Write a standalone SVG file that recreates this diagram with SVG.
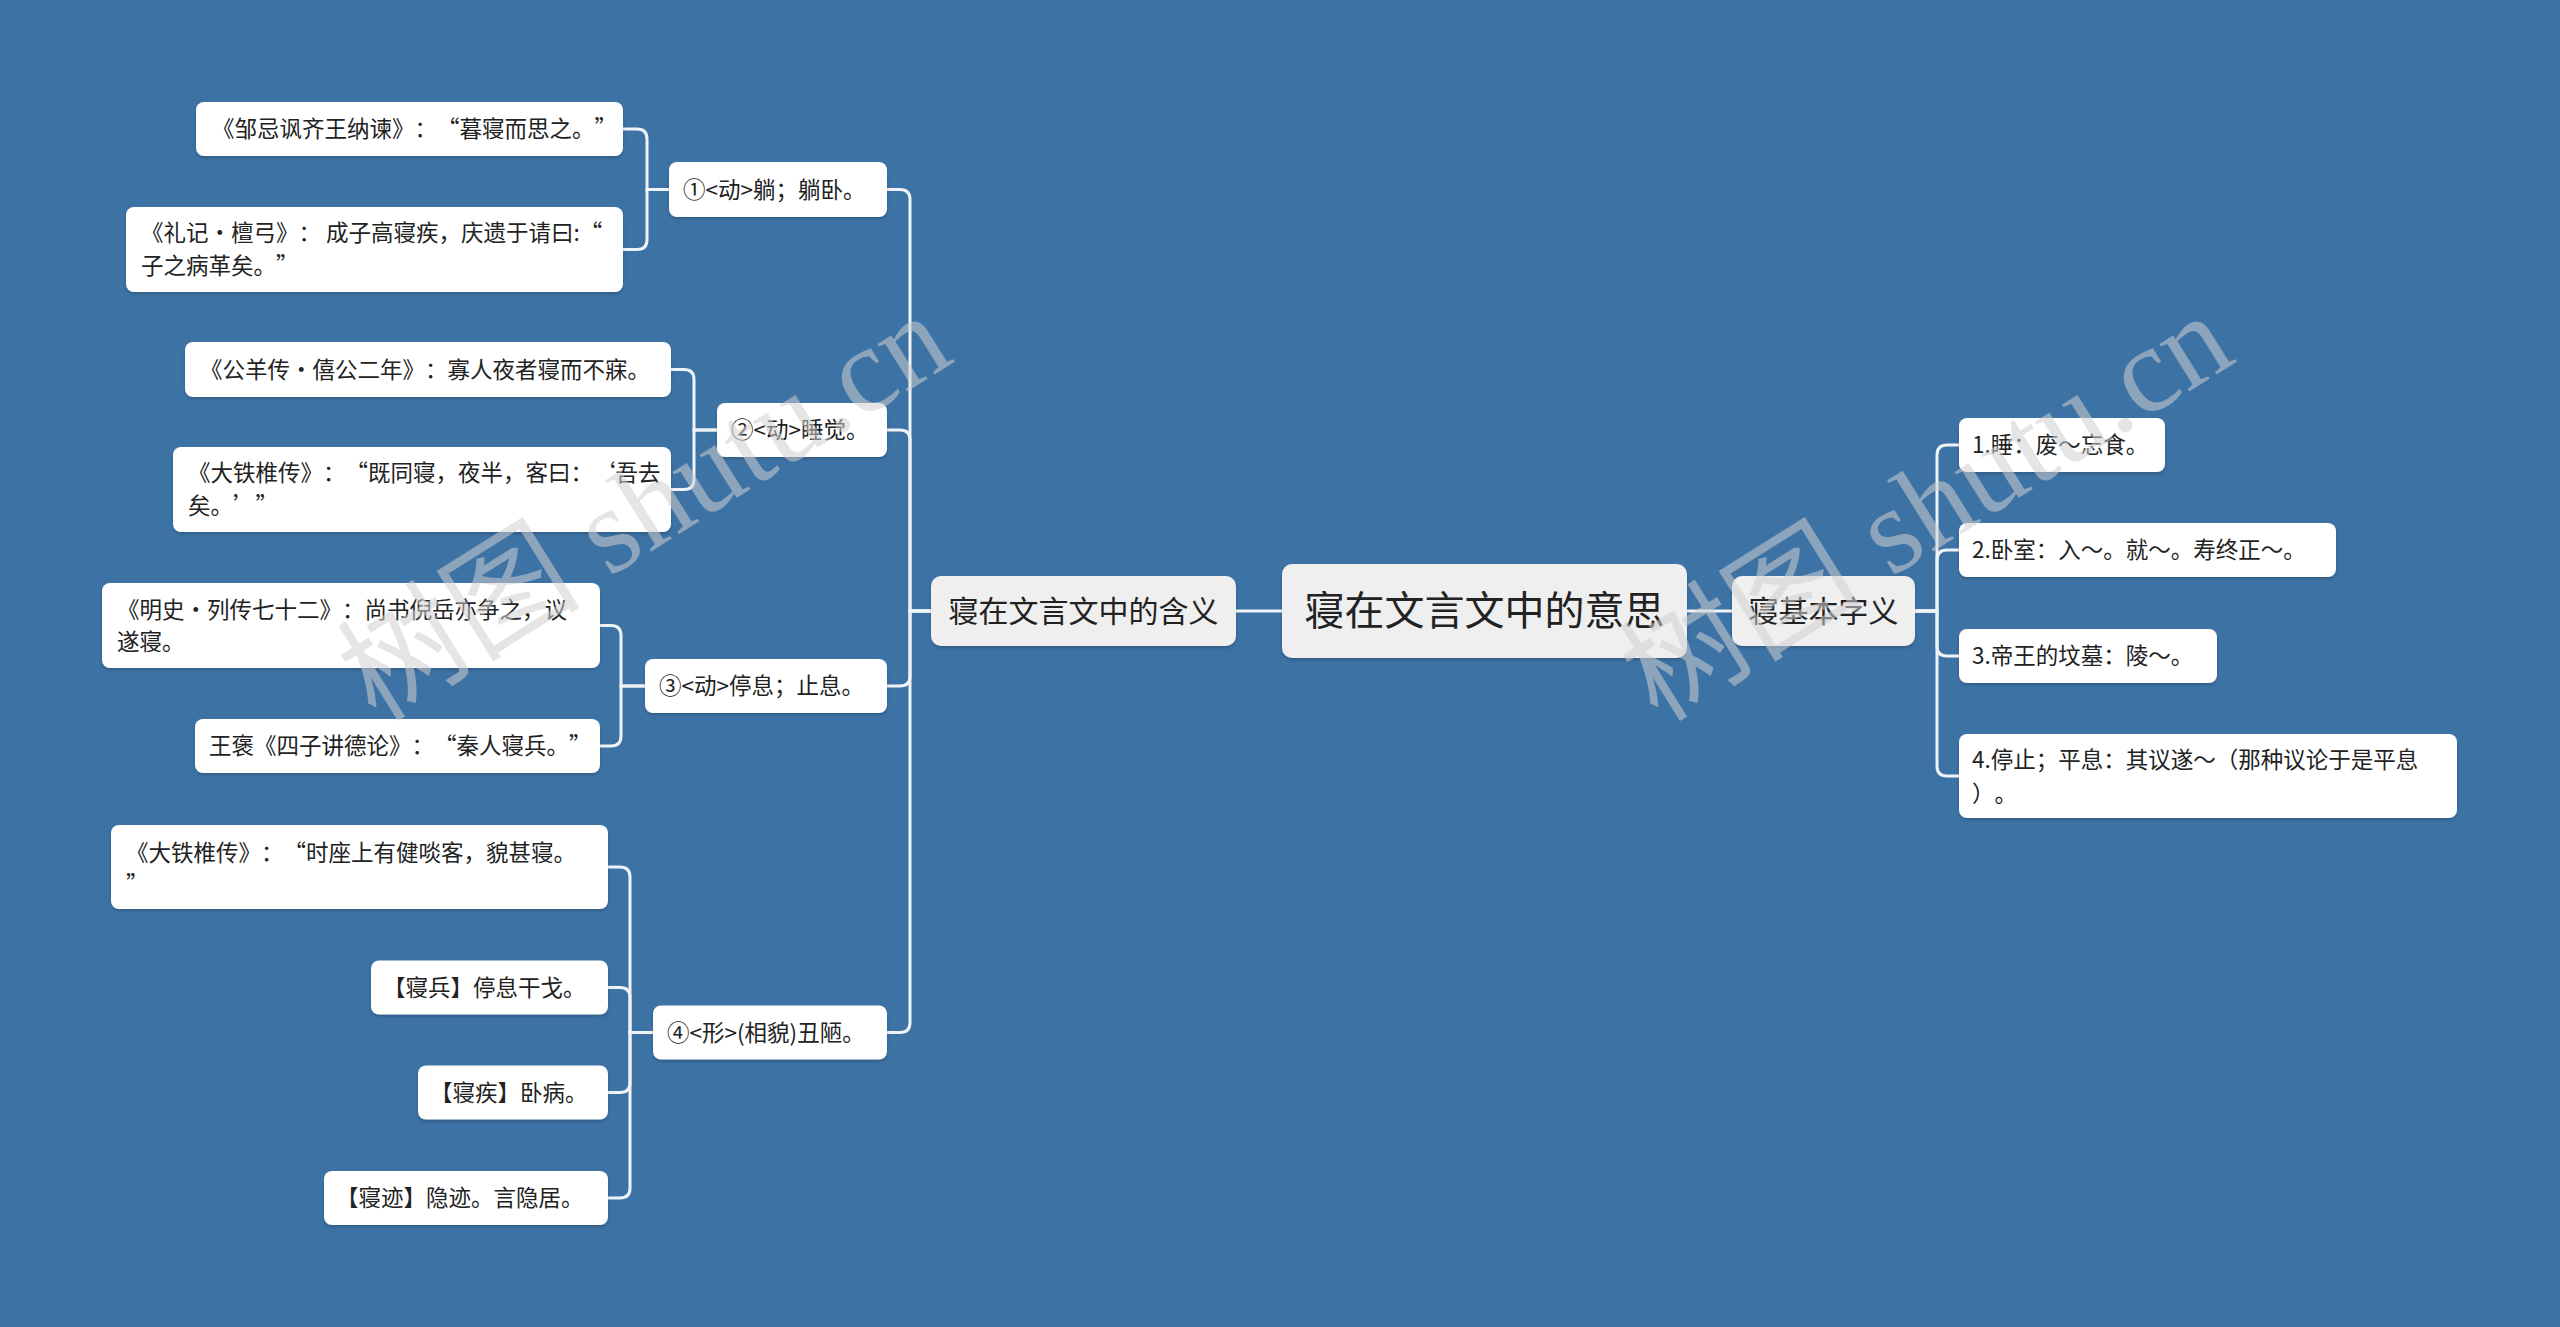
<svg xmlns="http://www.w3.org/2000/svg" width="2560" height="1327" viewBox="0 0 2560 1327">
<style>
.bg{fill:#3d72a5}
.ln{fill:none;stroke:#eef3f8;stroke-width:3;stroke-linecap:round}
.leaf rect{fill:#ffffff}
.mid rect,.root rect{fill:#efefef}
rect{filter:url(#sh)}
text{font-family:"Noto Sans CJK SC","Noto Sans",sans-serif;fill:#222;text-spacing-trim:space-all}
.leaf text{font-size:22.5px}
.mid text{font-size:30px;text-anchor:middle}
.root text{font-size:40px;text-anchor:middle}
.wm{font-size:122px;fill:#d0d0d0;fill-opacity:0.55;font-family:"Liberation Serif","Noto Sans CJK SC",serif}
</style>
<defs>
<filter id="sh" x="-5%" y="-10%" width="110%" height="130%">
<feDropShadow dx="0" dy="2" stdDeviation="1.5" flood-color="#000" flood-opacity="0.2"/>
</filter>
</defs>
<rect class="bg" x="0" y="0" width="2560" height="1327" style="filter:none"/>

<g id="connectors">
<path class="ln" d="M1236 611 H1282"/>
<path class="ln" d="M1687 611 H1732"/>
<path class="ln" d="M931 611 H910 V199.5 Q910 189.5 900 189.5 H887"/>
<path class="ln" d="M931 611 H910 V440 Q910 430 900 430 H887"/>
<path class="ln" d="M931 611 H910 V676 Q910 686 900 686 H887"/>
<path class="ln" d="M931 611 H910 V1022.5 Q910 1032.5 900 1032.5 H887"/>
<path class="ln" d="M669 189.5 H647 V139 Q647 129 637 129 H623"/>
<path class="ln" d="M669 189.5 H647 V239.5 Q647 249.5 637 249.5 H623"/>
<path class="ln" d="M717 430 H694 V379.5 Q694 369.5 684 369.5 H671"/>
<path class="ln" d="M717 430 H694 V479.5 Q694 489.5 684 489.5 H671"/>
<path class="ln" d="M645 686 H621 V635.5 Q621 625.5 611 625.5 H600"/>
<path class="ln" d="M645 686 H621 V736 Q621 746 611 746 H600"/>
<path class="ln" d="M653 1032.5 H630 V877 Q630 867 620 867 H608"/>
<path class="ln" d="M653 1032.5 H630 V997.5 Q630 987.5 620 987.5 H608"/>
<path class="ln" d="M653 1032.5 H630 V1082.5 Q630 1092.5 620 1092.5 H608"/>
<path class="ln" d="M653 1032.5 H630 V1188 Q630 1198 620 1198 H608"/>
<path class="ln" d="M1915 611 H1937 V455 Q1937 445 1947 445 H1959"/>
<path class="ln" d="M1915 611 H1937 V560 Q1937 550 1947 550 H1959"/>
<path class="ln" d="M1915 611 H1937 V646 Q1937 656 1947 656 H1959"/>
<path class="ln" d="M1915 611 H1937 V766 Q1937 776 1947 776 H1959"/>
</g>

<g id="root" class="root"><rect x="1282" y="564" width="405" height="94" rx="10"/><text x="1484.5" y="625">寝在文言文中的意思</text></g>
<g id="hanyi" class="mid"><rect x="931" y="576" width="305" height="70" rx="10"/><text x="1083.5" y="621.5">寝在文言文中的含义</text></g>
<g id="ziyi" class="mid"><rect x="1732" y="576" width="183" height="70" rx="10"/><text x="1823.5" y="621.5">寝基本字义</text></g>

<g id="n1" class="leaf"><rect x="669" y="162" width="218" height="55" rx="8"/><text x="683" y="197.5">①&lt;动&gt;躺；躺卧。</text></g>
<g id="n2" class="leaf"><rect x="717" y="403" width="170" height="54" rx="8"/><text x="731" y="438">②&lt;动&gt;睡觉。</text></g>
<g id="n3" class="leaf"><rect x="645" y="659" width="242" height="54" rx="8"/><text x="659" y="694">③&lt;动&gt;停息；止息。</text></g>
<g id="n4" class="leaf"><rect x="653" y="1005.5" width="234" height="54" rx="8"/><text x="667" y="1040.5">④&lt;形&gt;(相貌)丑陋。</text></g>

<g id="a1" class="leaf"><rect x="196" y="102" width="427" height="54" rx="8"/><text x="212" y="137">《邹忌讽齐王纳谏》：“暮寝而思之。”</text></g>
<g id="a2" class="leaf"><rect x="126" y="207" width="497" height="85" rx="8"/><text x="141" y="241">《礼记·檀弓》： 成子高寝疾，庆遗于请曰:“</text><text x="141" y="274">子之病革矣。”</text></g>
<g id="b1" class="leaf"><rect x="185" y="342" width="486" height="55" rx="8"/><text x="200" y="377.5">《公羊传·僖公二年》：寡人夜者寝而不寐。</text></g>
<g id="b2" class="leaf"><rect x="173" y="447" width="498" height="85" rx="8"/><text x="188" y="481">《大铁椎传》：“既同寝，夜半，客曰：‘吾去</text><text x="188" y="514">矣。’”</text></g>
<g id="c1" class="leaf"><rect x="102" y="583" width="498" height="85" rx="8"/><text x="117" y="618">《明史·列传七十二》：尚书倪岳亦争之，议</text><text x="117" y="650">遂寝。</text></g>
<g id="c2" class="leaf"><rect x="195" y="719" width="405" height="54" rx="8"/><text x="209" y="754">王褒《四子讲德论》：“秦人寝兵。”</text></g>
<g id="d1" class="leaf"><rect x="111" y="825" width="497" height="84" rx="8"/><text x="126" y="861">《大铁椎传》：“时座上有健啖客，貌甚寝。</text><text x="126" y="893">”</text></g>
<g id="d2" class="leaf"><rect x="371" y="960.5" width="237" height="54" rx="8"/><text x="383" y="995.5">【寝兵】停息干戈。</text></g>
<g id="d3" class="leaf"><rect x="418" y="1065.5" width="190" height="54" rx="8"/><text x="430" y="1100.5">【寝疾】卧病。</text></g>
<g id="d4" class="leaf"><rect x="324" y="1171" width="284" height="54" rx="8"/><text x="336" y="1206">【寝迹】隐迹。言隐居。</text></g>

<g id="r1" class="leaf"><rect x="1959" y="418" width="206" height="54" rx="8"/><text x="1972" y="453">1.睡：废～忘食。</text></g>
<g id="r2" class="leaf"><rect x="1959" y="523" width="377" height="54" rx="8"/><text x="1972" y="558">2.卧室：入～。就～。寿终正～。</text></g>
<g id="r3" class="leaf"><rect x="1959" y="629" width="258" height="54" rx="8"/><text x="1972" y="664">3.帝王的坟墓：陵～。</text></g>
<g id="r4" class="leaf"><rect x="1959" y="734" width="498" height="84" rx="8"/><text x="1972" y="768">4.停止；平息：其议遂～（那种议论于是平息</text><text x="1972" y="802">）。</text></g>

<g id="watermark">
<text class="wm" transform="translate(645 508) rotate(-32)" text-anchor="middle" y="40">树图 shutu.cn</text>
<text class="wm" transform="translate(1927 508) rotate(-32)" text-anchor="middle" y="40">树图 shutu.cn</text>
</g>
</svg>
